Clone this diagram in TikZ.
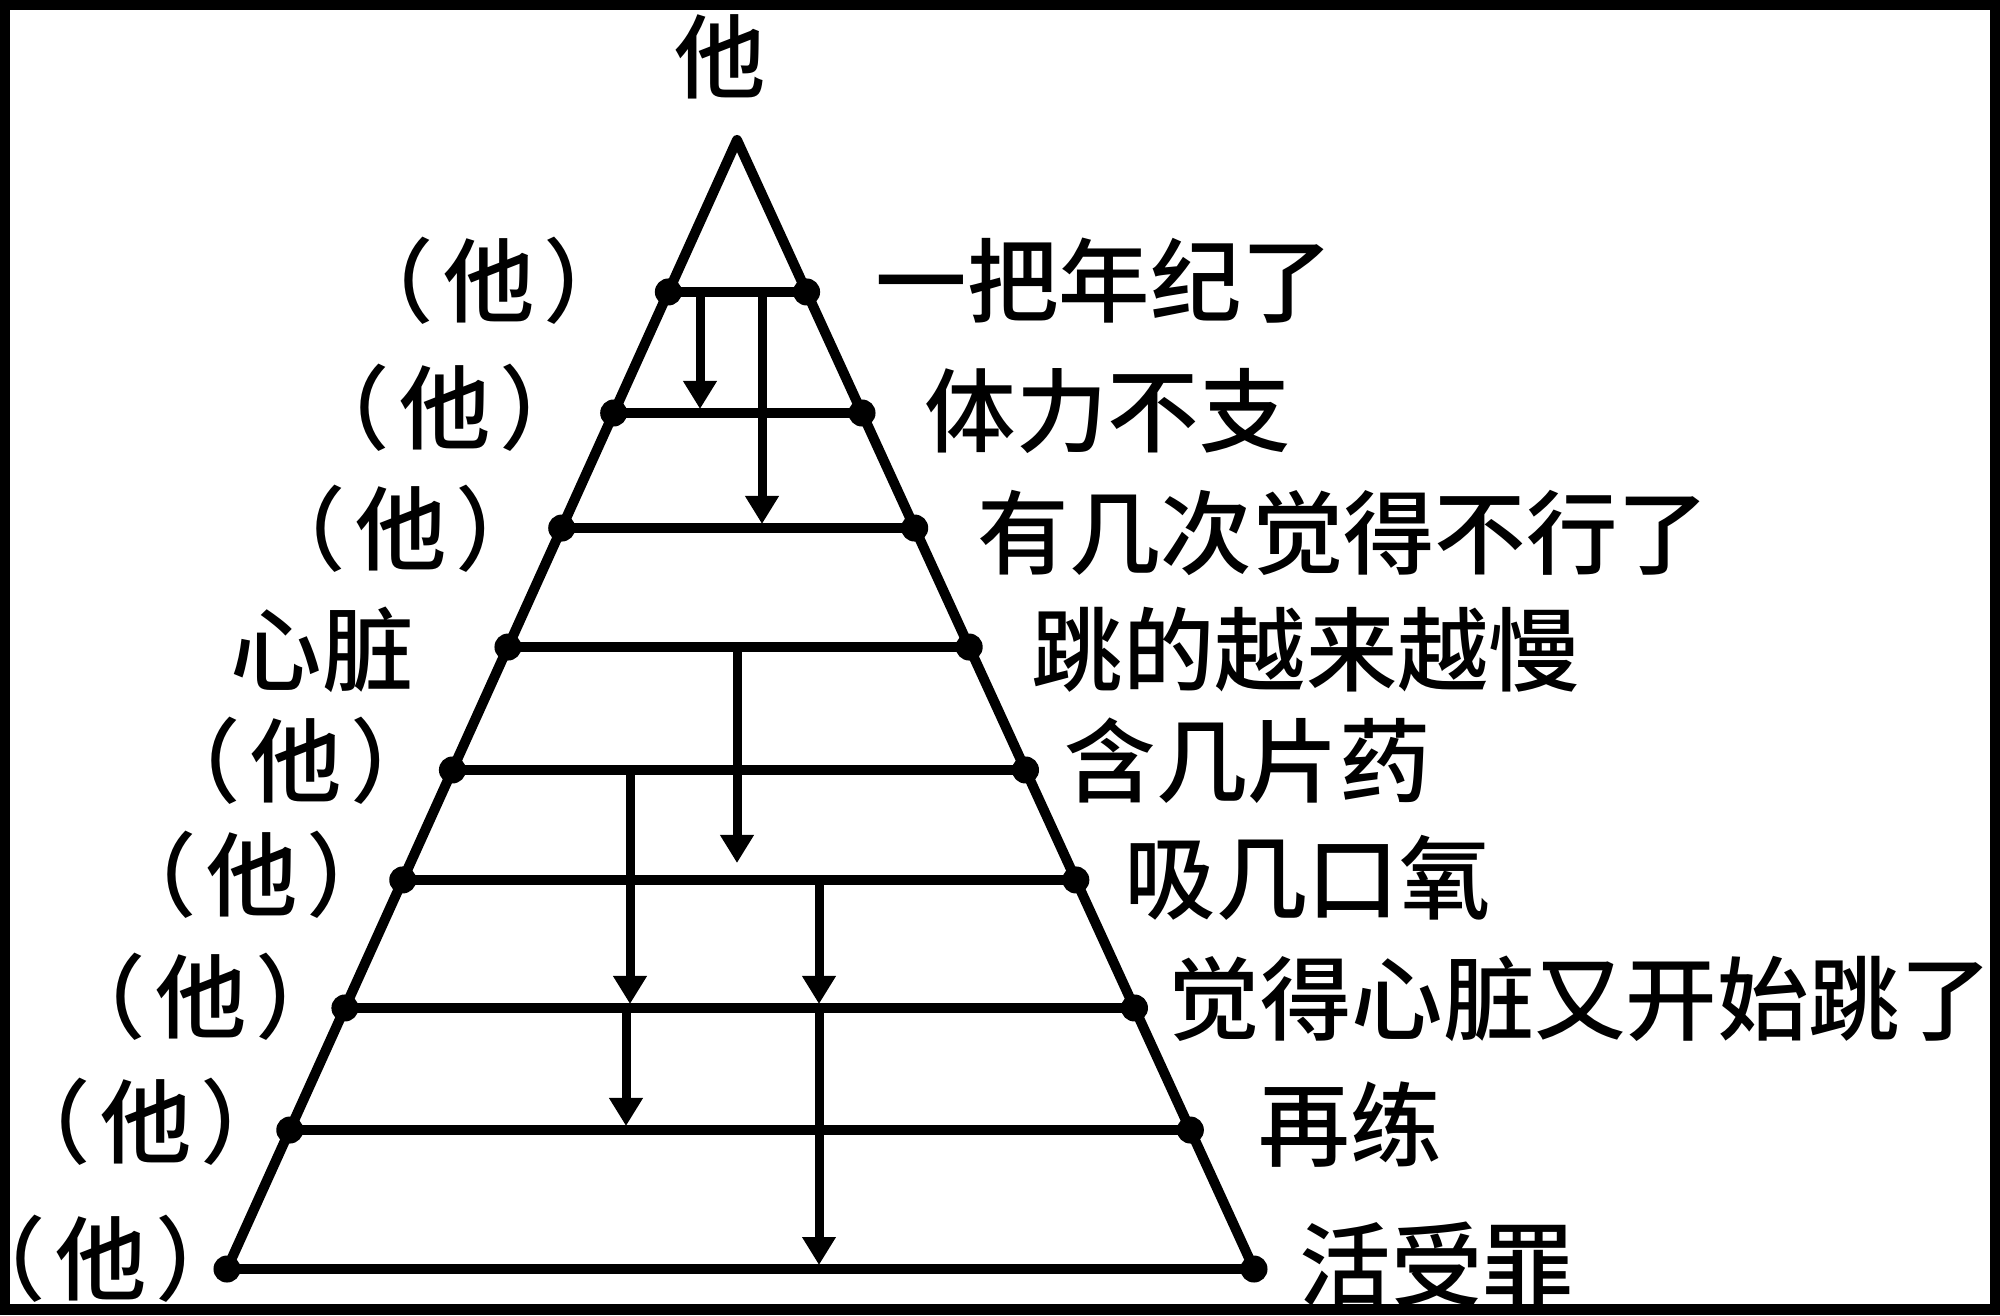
\documentclass[tikz,border=0pt]{standalone}
\usepackage{fontspec}
\newfontfamily\cjk{Noto Sans CJK SC}[UprightFont=* Medium]
\newcommand\lblfont{\cjk\fontsize{26pt}{30pt}\selectfont}
\usetikzlibrary{arrows.meta,calc}
\begin{document}
\begin{tikzpicture}[x=0.01cm,y=-0.01cm,
  edge/.style={line width=0.1cm,line cap=round,line join=round},
  dotmark/.style={fill=black,circle,inner sep=0pt,minimum size=0.27cm},
  flow/.style={line width=0.09cm,-{Triangle[width=0.32cm,length=0.28cm]},shorten >=0.04cm},
  lbl/.style={inner sep=0pt,font=\lblfont}]
\useasboundingbox (0,0) rectangle (2000,1315);
\fill[black] (0,0) rectangle (2000,1315);
\fill[white] (10,10) rectangle (1990,1304);
% pyramid
\coordinate (apex) at (737,140);
\coordinate (BL) at (227,1269);
\coordinate (BR) at (1254,1269);
\draw[edge] (BL) -- (apex) -- (BR);
\foreach \i/\t in {1/0.1346,2/0.2418,3/0.3437,4/0.4491,5/0.5580,6/0.6554,7/0.7688,8/0.8769,9/1.0}{
  \node[dotmark] (l\i) at ($(apex)!\t!(BL)$) {};
  \node[dotmark] (r\i) at ($(apex)!\t!(BR)$) {};
  \draw[edge] (l\i.center) -- (r\i.center);
}
% arrows
\coordinate (a1s) at (700,292);  \coordinate (a1e) at (700,413);
\coordinate (a2s) at (762,292);  \coordinate (a2e) at (762,528);
\coordinate (a3s) at (737,647);  \coordinate (a3e) at (737,867);
\coordinate (a4s) at (630,770);  \coordinate (a4e) at (630,1008);
\coordinate (a5s) at (819,880);  \coordinate (a5e) at (819,1008);
\coordinate (a6s) at (626,1008); \coordinate (a6e) at (626,1130);
\coordinate (a7s) at (819,1008); \coordinate (a7e) at (819,1269);
\foreach \k in {1,...,7}{
  \draw[flow] (a\k s) -- (a\k e);
}
% top label
\node[lbl] (top) at (720,57) {他};
% left labels
\newcommand\ta{\makebox[2.1em][c]{（\hspace{0.1em}他\hspace{0.1em}）}}
\node[lbl] (tl1) at (489,281) {\ta};
\node[lbl] (tl2) at (445,408) {\ta};
\node[lbl] (tl3) at (401,529) {\ta};
\node[lbl] (tl4) at (322,650) {心脏};
\node[lbl] (tl5) at (296,761) {\ta};
\node[lbl] (tl6) at (252,875) {\ta};
\node[lbl] (tl7) at (201,997) {\ta};
\node[lbl] (tl8) at (146,1122) {\ta};
\node[lbl] (tl9) at (101,1259) {\ta};
% right labels
\node[lbl,anchor=west] (tr1) at (875,281) {一把年纪了};
\node[lbl,anchor=west] (tr2) at (924,411) {体力不支};
\node[lbl,anchor=west] (tr3) at (977,533) {有几次觉得不行了};
\node[lbl,anchor=west] (tr4) at (1031,650) {跳的越来越慢};
\node[lbl,anchor=west] (tr5) at (1064,761) {含几片药};
\node[lbl,anchor=west] (tr6) at (1124,878) {吸几口氧};
\node[lbl,anchor=west] (tr7) at (1168,999) {觉得心脏又开始跳了};
\node[lbl,anchor=west] (tr8) at (1258,1125) {再练};
\node[lbl,anchor=west] (tr9) at (1299,1265) {活受罪};
\end{tikzpicture}
\end{document}
